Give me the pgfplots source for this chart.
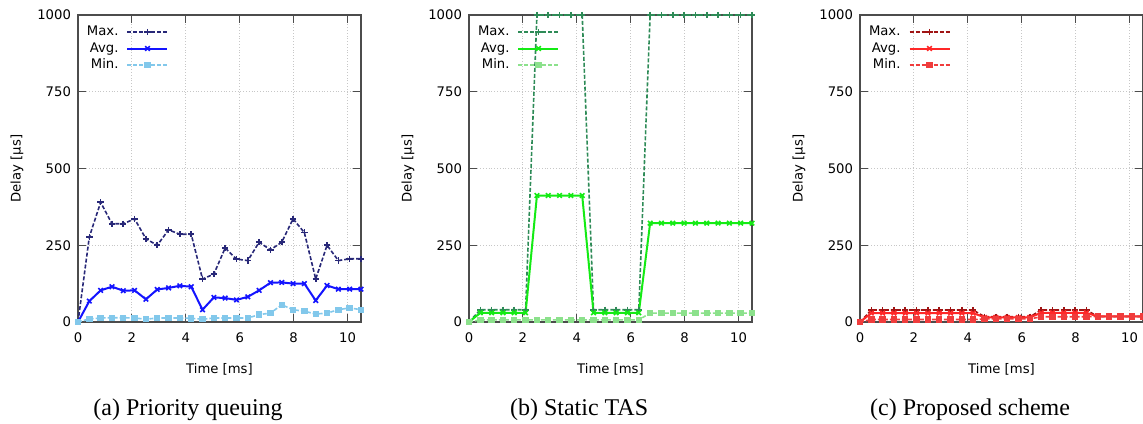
\documentclass[border=0pt]{standalone}
\usepackage{fontspec}
\setmainfont{Liberation Serif}
\newfontfamily\plotfont{DejaVu Sans}
\usepackage{pgfplots}
\usepackage{pgfplotstable}
\pgfplotsset{compat=1.18}

\definecolor{pqmax}{RGB}{40,40,120}
\definecolor{pqavg}{RGB}{20,20,255}
\definecolor{pqmin}{RGB}{130,200,235}
\definecolor{tasmax}{RGB}{46,139,87}
\definecolor{tasavg}{RGB}{20,235,20}
\definecolor{tasmin}{RGB}{140,225,140}
\definecolor{prmax}{RGB}{160,20,20}
\definecolor{pravg}{RGB}{255,40,40}
\definecolor{prmin}{RGB}{240,60,60}

% x   max   avg   min
\pgfplotstableread{
x     max  avg  min
0     0    0    0
0.42  277  68   10
0.84  390  103  13
1.26  320  115  14
1.68  320  102  14
2.10  336  103  13
2.52  271  74   9
2.94  250  106  13
3.36  300  111  13
3.78  286  118  13
4.20  286  115  12
4.62  140  40   9
5.04  156  80   13
5.46  241  78   13
5.88  205  72   13
6.30  200  82   13
6.72  260  103  24
7.14  235  128  29
7.56  260  129  56
7.98  336  125  40
8.40  291  125  35
8.82  140  70   26
9.24  250  119  29
9.66  200  107  40
10.08 206  107  46
10.50 206  107  40
}\pqdata

\pgfplotstableread{
x     max   avg  min
0     0     0    0
0.42  40    30   7
0.84  40    30   7
1.26  40    30   7
1.68  40    30   7
2.10  40    30   7
2.52  1000  412  7
2.94  1000  412  7
3.36  1000  412  7
3.78  1000  412  7
4.20  1000  412  7
4.62  40    30   7
5.04  40    30   7
5.46  40    30   7
5.88  40    30   7
6.30  40    30   7
6.72  1000  322  29
7.14  1000  322  29
7.56  1000  322  29
7.98  1000  322  29
8.40  1000  322  29
8.82  1000  322  29
9.24  1000  322  29
9.66  1000  322  29
10.08 1000  322  29
10.50 1000  322  29
}\tasdata

\pgfplotstableread{
x     max  avg  min
0     0    0    0
0.42  39   29   8
0.84  39   29   8
1.26  39   29   8
1.68  39   29   8
2.10  39   29   8
2.52  39   29   8
2.94  39   29   8
3.36  39   29   8
3.78  39   29   8
4.20  39   29   8
4.62  17   15   10
5.04  17   15   10
5.46  17   15   10
5.88  17   15   10
6.30  17   15   10
6.72  39   30   17
7.14  39   30   17
7.56  39   30   17
7.98  39   30   17
8.40  39   30   17
8.82  18   18   18
9.24  18   18   18
9.66  18   18   18
10.08 18   18   18
10.50 18   18   18
}\prdata

\tikzset{subcap/.style={font=\rmfamily\fontsize{12}{14}\selectfont}}

\pgfplotsset{
  delay/.style={
    width=141.5pt, height=153.5pt, scale only axis,
    xmin=0, xmax=10.5, ymin=0, ymax=1000,
    xtick={0,2,...,10}, ytick={0,250,500,750,1000},
    tick align=inside, major tick length=4pt,
    grid=major, grid style={densely dotted, black!22, line width=0.5pt},
    axis line style={black!70, line width=0.6pt},
    tick style={black!70, line width=0.5pt},
    clip=false,
    font=\plotfont\fontsize{6.6}{7.5}\selectfont,
    /pgf/number format/assume math mode=true,
    /pgf/number format/set thousands separator={},
    xticklabel style={yshift=-2pt},
    xlabel={Time [ms]}, ylabel={Delay [µs]},
    xlabel style={at={(axis description cs:0.5,0)}, anchor=center, yshift=-23.5pt},
    ylabel style={at={([xshift=-30.5pt]axis description cs:0,0.5)}, anchor=center},
    legend plot pos=right,
    legend cell align=right,
    legend style={draw=none, fill=none, inner sep=0pt, outer sep=0pt,
      at={(axis description cs:0,1)}, anchor=north west, xshift=4pt, yshift=-4.75pt,
      column sep=3.5pt, row sep=0.75pt,
      nodes={text height=5pt, text depth=1.5pt, inner sep=0.5pt}},
    legend image code/.code={
      \draw[mark repeat=2, mark phase=2, #1] plot coordinates {(0pt,0pt) (10pt,0pt) (20pt,0pt)};},
  },
  maxline/.style={dash pattern=on 2pt off 1pt, line width=0.8pt, mark=+, mark size=1.6pt,
    every mark/.append style={solid, line width=0.8pt}},
  avgline/.style={solid, line width=1pt, mark=x, mark size=1.6pt,
    every mark/.append style={solid, line width=0.8pt}},
  minline/.style={dash pattern=on 2pt off 1pt, line width=0.8pt, mark=square*, mark size=1.2pt,
    every mark/.append style={solid}},
}

\begin{document}
\begin{tikzpicture}
\begin{axis}[delay]
  \addplot[maxline, color=pqmax] table[x=x, y=max] {\pqdata};
  \addplot[avgline, color=pqavg] table[x=x, y=avg] {\pqdata};
  \addplot[minline, color=pqmin] table[x=x, y=min] {\pqdata};
  \legend{Max., Avg., Min.}
  \node[subcap] at (rel axis cs:0.389,0) [yshift=-44pt] {(a) Priority queuing};
\end{axis}

\begin{axis}[delay, at={(195.5pt,0)}]
  \addplot[maxline, color=tasmax] table[x=x, y=max] {\tasdata};
  \addplot[avgline, color=tasavg] table[x=x, y=avg] {\tasdata};
  \addplot[minline, color=tasmin] table[x=x, y=min] {\tasdata};
  \legend{Max., Avg., Min.}
  \node[subcap] at (rel axis cs:0.389,0) [yshift=-44pt] {(b) Static TAS};
\end{axis}

\begin{axis}[delay, at={(391pt,0)}]
  \addplot[maxline, color=prmax] table[x=x, y=max] {\prdata};
  \addplot[avgline, color=pravg] table[x=x, y=avg] {\prdata};
  \addplot[minline, color=prmin] table[x=x, y=min] {\prdata};
  \legend{Max., Avg., Min.}
  \node[subcap] at (rel axis cs:0.389,0) [yshift=-44pt] {(c) Proposed scheme};
\end{axis}

\pgfresetboundingbox
\path[use as bounding box] (-39pt,-50.5pt) rectangle (532.5pt,161pt);
\end{tikzpicture}
\end{document}
